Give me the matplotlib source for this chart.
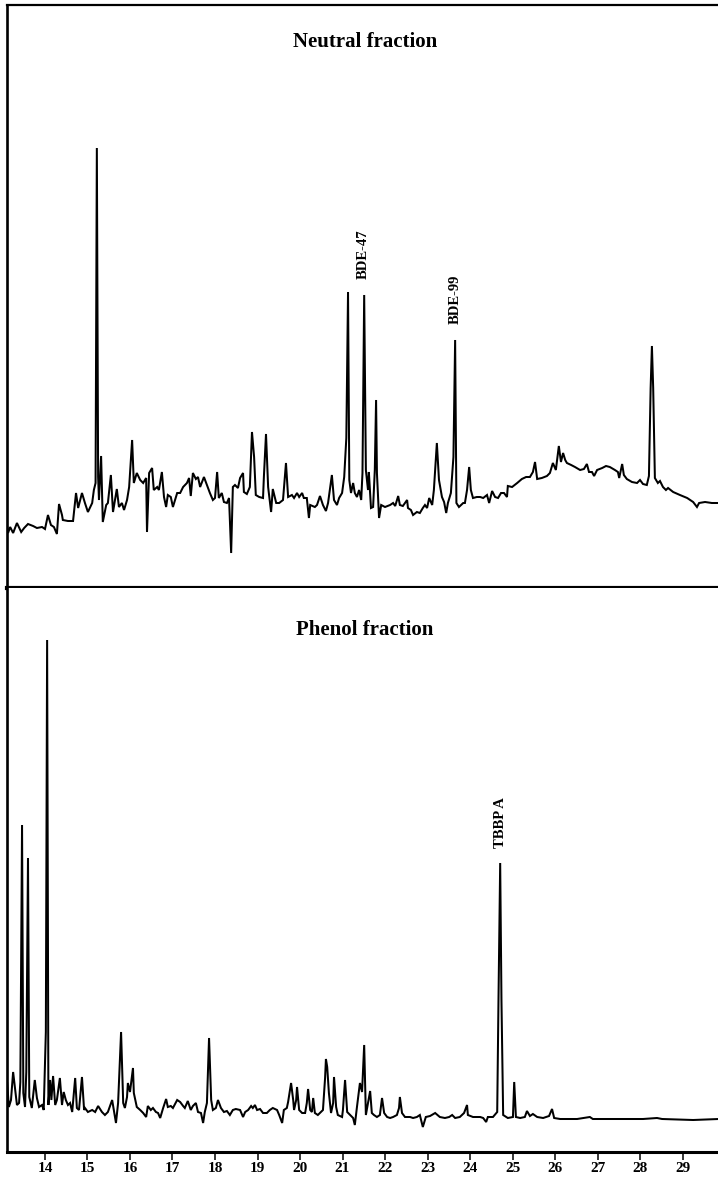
import matplotlib
matplotlib.use("Agg")
import matplotlib.pyplot as plt

# ---------------- data (retention time in min, detector response in arbitrary units) -------------
neutral_time = [
    13.11, 13.13, 13.18, 13.25, 13.34, 13.44, 13.51, 13.60, 13.72, 13.81, 13.93, 14.00,
    14.07, 14.14, 14.21, 14.28, 14.33, 14.40, 14.42, 14.54, 14.66, 14.73, 14.78, 14.87,
    14.94, 15.01, 15.11, 15.15, 15.19, 15.22, 15.25, 15.27, 15.32, 15.36, 15.44, 15.48,
    15.55, 15.60, 15.69, 15.74, 15.81, 15.86, 15.93, 15.98, 16.05, 16.09, 16.16, 16.24,
    16.31, 16.38, 16.40, 16.45, 16.52, 16.56, 16.64, 16.68, 16.75, 16.80, 16.85, 16.89,
    16.96, 17.01, 17.11, 17.18, 17.25, 17.34, 17.39, 17.43, 17.48, 17.55, 17.60, 17.65,
    17.74, 17.81, 17.88, 17.95, 18.00, 18.05, 18.09, 18.16, 18.21, 18.28, 18.33, 18.38,
    18.42, 18.47, 18.54, 18.59, 18.66, 18.68, 18.75, 18.82, 18.87, 18.92, 18.96, 19.04,
    19.13, 19.15, 19.20, 19.25, 19.32, 19.36, 19.44, 19.51, 19.60, 19.67, 19.72, 19.81,
    19.86, 19.93, 19.98, 20.05, 20.09, 20.16, 20.21, 20.24, 20.35, 20.40, 20.47, 20.54,
    20.61, 20.66, 20.75, 20.80, 20.87, 20.92, 20.99, 21.04, 21.09, 21.13, 21.16, 21.20,
    21.25, 21.29, 21.34, 21.39, 21.44, 21.47, 21.51, 21.55, 21.60, 21.62, 21.67, 21.72,
    21.76, 21.79, 21.81, 21.86, 21.91, 22.00, 22.12, 22.19, 22.24, 22.31, 22.35, 22.42,
    22.52, 22.54, 22.61, 22.66, 22.75, 22.82, 22.89, 22.94, 22.99, 23.04, 23.11, 23.15,
    23.22, 23.27, 23.34, 23.39, 23.44, 23.48, 23.55, 23.61, 23.65, 23.68, 23.74, 23.84,
    23.88, 23.93, 23.98, 24.02, 24.07, 24.16, 24.24, 24.31, 24.40, 24.45, 24.52, 24.59,
    24.66, 24.73, 24.80, 24.87, 24.89, 24.99, 25.11, 25.22, 25.32, 25.41, 25.48, 25.53,
    25.58, 25.69, 25.81, 25.88, 25.95, 26.02, 26.09, 26.14, 26.19, 26.24, 26.28, 26.38,
    26.47, 26.59, 26.68, 26.75, 26.80, 26.87, 26.92, 26.99, 27.11, 27.20, 27.29, 27.41,
    27.48, 27.51, 27.58, 27.62, 27.69, 27.81, 27.93, 28.00, 28.07, 28.16, 28.21, 28.25,
    28.28, 28.31, 28.35, 28.42, 28.47, 28.54, 28.61, 28.66, 28.78, 28.94, 29.11, 29.25,
    29.34, 29.39, 29.53, 29.69, 29.85,
]
neutral_resp = [
    61, 55, 61, 55, 65, 56, 60, 64, 62, 60, 61, 59,
    73, 63, 61, 54, 84, 73, 68, 67, 67, 95, 80, 95,
    85, 76, 85, 98, 105, 440, 111, 88, 132, 66, 83, 85,
    113, 76, 99, 81, 85, 78, 88, 101, 148, 105, 115, 108,
    105, 110, 56, 115, 120, 98, 101, 98, 116, 91, 81, 93,
    91, 81, 95, 95, 101, 105, 110, 92, 115, 109, 111, 101,
    111, 103, 95, 88, 90, 116, 90, 95, 86, 85, 90, 35,
    101, 103, 100, 110, 115, 96, 94, 101, 156, 131, 93, 91,
    90, 111, 154, 101, 76, 99, 85, 85, 88, 125, 91, 93,
    90, 95, 91, 95, 90, 90, 70, 83, 81, 83, 92, 83,
    77, 85, 113, 88, 83, 90, 95, 111, 150, 296, 108, 95,
    105, 95, 91, 98, 88, 115, 293, 118, 98, 116, 80, 81,
    118, 188, 115, 70, 83, 81, 83, 85, 82, 92, 83, 82,
    88, 80, 78, 73, 76, 75, 80, 83, 80, 90, 83, 98,
    145, 108, 91, 86, 75, 85, 95, 131, 248, 85, 81, 85,
    85, 98, 121, 98, 90, 91, 91, 90, 93, 85, 97, 91,
    90, 95, 95, 91, 102, 101, 105, 109, 111, 111, 116, 126,
    109, 110, 112, 115, 125, 118, 142, 126, 135, 128, 125, 123,
    121, 118, 119, 124, 116, 116, 112, 118, 120, 122, 121, 118,
    116, 110, 124, 113, 109, 106, 105, 108, 104, 103, 112, 200,
    242, 200, 110, 105, 107, 101, 98, 100, 96, 93, 90, 86,
    81, 85, 86, 85, 85,
]

phenol_time = [
    13.11, 13.15, 13.20, 13.25, 13.29, 13.34, 13.39, 13.42, 13.46, 13.49, 13.53, 13.56,
    13.60, 13.63, 13.69, 13.76, 13.81, 13.86, 13.93, 13.97, 14.02, 14.05, 14.08, 14.12,
    14.15, 14.19, 14.24, 14.28, 14.35, 14.40, 14.44, 14.49, 14.54, 14.59, 14.64, 14.71,
    14.75, 14.80, 14.87, 14.92, 14.94, 15.01, 15.11, 15.18, 15.25, 15.34, 15.41, 15.48,
    15.58, 15.62, 15.67, 15.72, 15.79, 15.84, 15.88, 15.93, 15.95, 16.00, 16.07, 16.09,
    16.16, 16.24, 16.31, 16.38, 16.42, 16.49, 16.54, 16.61, 16.66, 16.71, 16.78, 16.85,
    16.89, 16.96, 17.01, 17.11, 17.18, 17.25, 17.29, 17.36, 17.43, 17.48, 17.55, 17.60,
    17.67, 17.72, 17.76, 17.81, 17.86, 17.91, 17.95, 18.02, 18.07, 18.14, 18.21, 18.28,
    18.35, 18.42, 18.49, 18.59, 18.66, 18.71, 18.78, 18.85, 18.89, 18.94, 18.99, 19.06,
    19.13, 19.22, 19.29, 19.36, 19.46, 19.51, 19.58, 19.62, 19.69, 19.72, 19.79, 19.84,
    19.86, 19.91, 19.93, 19.98, 20.05, 20.12, 20.16, 20.19, 20.24, 20.28, 20.31, 20.35,
    20.42, 20.49, 20.54, 20.59, 20.61, 20.64, 20.68, 20.73, 20.78, 20.80, 20.85, 20.89,
    20.99, 21.01, 21.06, 21.11, 21.18, 21.25, 21.29, 21.34, 21.41, 21.46, 21.51, 21.55,
    21.60, 21.65, 21.69, 21.74, 21.81, 21.88, 21.93, 21.98, 22.05, 22.12, 22.19, 22.28,
    22.33, 22.35, 22.40, 22.47, 22.59, 22.66, 22.75, 22.82, 22.89, 22.96, 23.06, 23.18,
    23.29, 23.41, 23.51, 23.58, 23.65, 23.76, 23.86, 23.93, 23.95, 24.07, 24.24, 24.31,
    24.38, 24.42, 24.54, 24.64, 24.67, 24.71, 24.74, 24.78, 24.89, 25.01, 25.04, 25.08,
    25.18, 25.29, 25.34, 25.41, 25.48, 25.58, 25.72, 25.86, 25.93, 25.98, 26.12, 26.52,
    26.82, 26.89, 27.29, 28.07, 28.40, 28.52, 29.25, 29.85,
]
phenol_resp = [
    69, 45, 52, 80, 65, 47, 49, 70, 327, 59, 45, 80,
    294, 55, 44, 72, 54, 45, 47, 42, 120, 512, 47, 72,
    52, 76, 47, 52, 74, 47, 60, 52, 47, 49, 40, 74,
    44, 42, 75, 42, 44, 40, 42, 40, 46, 40, 37, 40,
    52, 42, 29, 49, 120, 49, 44, 55, 69, 60, 84, 59,
    45, 42, 39, 35, 46, 42, 44, 40, 39, 34, 44, 53,
    45, 46, 44, 52, 50, 46, 44, 51, 42, 46, 49, 40,
    39, 29, 40, 49, 114, 52, 42, 44, 52, 44, 40, 41,
    37, 42, 43, 42, 35, 40, 42, 46, 44, 47, 42, 43,
    39, 39, 42, 44, 42, 37, 29, 42, 44, 50, 69, 52,
    42, 52, 65, 42, 39, 39, 49, 63, 42, 40, 54, 39,
    37, 40, 42, 74, 93, 85, 59, 39, 49, 75, 45, 37,
    35, 42, 72, 40, 37, 34, 27, 45, 69, 60, 107, 37,
    49, 61, 39, 37, 35, 37, 54, 39, 35, 34, 35, 37,
    44, 55, 39, 35, 35, 34, 35, 37, 25, 35, 36, 39,
    35, 34, 35, 37, 34, 35, 39, 47, 37, 35, 35, 34,
    30, 35, 35, 40, 152, 289, 152, 37, 34, 35, 70, 35,
    34, 35, 41, 36, 38, 35, 34, 36, 43, 34, 33, 33,
    35, 33, 33, 33, 34, 33, 32, 33,
]

tick_minutes = list(range(14, 30))
panel_titles = ["Neutral fraction", "Phenol fraction"]
neutral_labels = ["BDE-47", "BDE-99"]
neutral_label_times = [21.49, 23.65]
neutral_label_heights = [293, 248]
phenol_labels = ["TBBP A"]
phenol_label_times = [24.71]
phenol_label_heights = [289]

# ---------------- figure ----------------
W, H = 718, 1182
fig = plt.figure(figsize=(W / 100, H / 100), dpi=100)
serif = ["Liberation Serif", "DejaVu Serif"]

left_px, right_px = 7, 718
top_px, sep_px, bot_px = 5, 588, 1152
ax_w = (right_px - left_px) / W

ax1 = fig.add_axes([left_px / W, 1 - sep_px / H, ax_w, (sep_px - top_px) / H])
ax2 = fig.add_axes([left_px / W, 1 - bot_px / H, ax_w, (bot_px - sep_px) / H])

xlim = (13.106, 29.835)
for ax in (ax1, ax2):
    ax.set_xlim(*xlim)
    ax.spines["right"].set_visible(False)
    ax.spines["left"].set_linewidth(1.9)
    ax.set_yticks([])

ax1.set_ylim(0, sep_px - top_px)
ax2.set_ylim(0, bot_px - sep_px)

ax1.plot(neutral_time, neutral_resp, color="black", lw=1.45, solid_joinstyle="miter")
ax2.plot(phenol_time, phenol_resp, color="black", lw=1.45, solid_joinstyle="miter")

ax1.spines["top"].set_linewidth(1.6)
ax1.spines["bottom"].set_linewidth(3.0)
ax2.spines["top"].set_visible(False)
ax2.spines["bottom"].set_linewidth(2.2)

ax1.set_xticks([])
ax2.set_xticks(tick_minutes)
ax2.set_xticklabels([str(t) for t in tick_minutes], fontfamily=serif,
                    fontweight="bold", fontsize=11)
ax2.tick_params(axis="x", direction="out", length=6, width=1.1, pad=1.5)

ax1.text(0.5035, (sep_px - 42) / (sep_px - top_px), panel_titles[0], transform=ax1.transAxes,
         ha="center", va="center", fontsize=15, fontweight="bold", fontfamily=serif)
ax2.text(0.5035, (bot_px - 630) / (bot_px - sep_px), panel_titles[1], transform=ax2.transAxes,
         ha="center", va="center", fontsize=15, fontweight="bold", fontfamily=serif)

for lab, t, h in zip(neutral_labels, neutral_label_times, neutral_label_heights):
    ax1.text(t, h + 16, lab, rotation=90, ha="center", va="bottom", fontsize=10.5,
             fontweight="bold", fontfamily=serif)
for lab, t, h in zip(phenol_labels, phenol_label_times, phenol_label_heights):
    ax2.text(t, h + 15, lab, rotation=90, ha="center", va="bottom", fontsize=10.5,
             fontweight="bold", fontfamily=serif)

fig.savefig("out.png", dpi=100)
